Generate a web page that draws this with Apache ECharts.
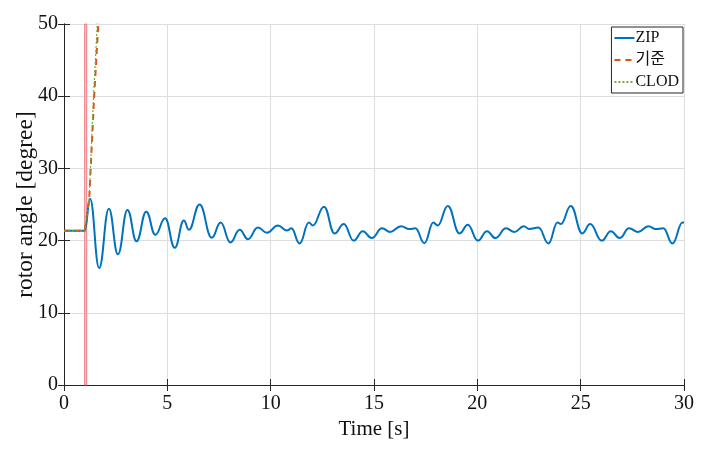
<!DOCTYPE html>
<html>
<head>
<meta charset="utf-8">
<script src="https://cdn.jsdelivr.net/npm/echarts@6/dist/echarts.min.js"></script>
<style>
  html, body { margin: 0; padding: 0; background: #fff; }
  #chart { width: 711px; height: 457px; }
</style>
</head>
<body>
<div id="chart"></div>
<script>
// 시간축 (s) / 회전자 각도 (degree)
const zipTime = [0, 1.0, 1.26, 1.70, 2.17, 2.61, 3.07, 3.51, 3.98, 4.42, 4.89, 5.36, 5.80, 6.04, 6.56,
  7.15, 7.58, 8.05, 8.50, 8.90, 9.38, 9.82, 10.35, 10.79, 11.0, 11.40, 11.85, 12.04, 12.58, 13.09,
  13.54, 14.01, 14.46, 14.89, 15.39, 15.78, 16.31, 16.71, 17.0, 17.44, 17.87, 18.08, 18.57, 19.14,
  19.54, 20.02, 20.47, 20.87, 21.39, 21.79, 22.25, 22.51, 22.96, 23.44, 23.88, 24.04, 24.52, 25.08,
  25.46, 26.02, 26.46, 26.89, 27.34, 27.78, 28.28, 28.63, 29.0, 29.44, 29.93, 30];
const zipAngle = [21.35, 21.35, 25.8, 16.2, 24.4, 18.1, 24.25, 19.9, 24.0, 20.8, 23.1, 19.0, 22.8, 21.5, 25.0,
  20.4, 22.5, 19.75, 21.5, 20.2, 21.8, 21.1, 22.1, 21.4, 21.7, 19.6, 22.5, 22.1, 24.7, 21.0,
  22.3, 20.0, 21.3, 20.35, 21.7, 21.2, 22.0, 21.6, 21.7, 19.65, 22.5, 22.1, 24.8, 21.0,
  22.2, 20.0, 21.3, 20.35, 21.7, 21.2, 22.0, 21.6, 21.8, 19.6, 22.5, 22.3, 24.8, 21.0,
  22.3, 20.0, 21.3, 20.35, 21.7, 21.2, 22.0, 21.6, 21.7, 19.6, 22.5, 22.5];

const baseTime = [0, 1.0, 1.22, 1.45, 1.66, 1.75];
const baseAngle = [21.35, 21.35, 25.7, 39.5, 50, 54];

const clodTime = [0, 1.0, 1.22, 1.42, 1.61, 1.7];
const clodAngle = [21.35, 21.35, 25.9, 39.5, 50, 54];

// 고장 구간
const faultStart = 1.0;
const faultEnd = 1.1;

const xTicks = [0, 5, 10, 15, 20, 25, 30];
const yTicks = [0, 10, 20, 30, 40, 50];

const pairs = (t, v) => t.map((x, i) => [x, v[i]]);

const serif = 'Liberation Serif, Times New Roman, serif';
const axisColor = '#262626';

const chart = echarts.init(document.getElementById('chart'));

const option = {
  animation: false,
  grid: { left: 64, right: 27, top: 24, bottom: 72, containLabel: false, outerBoundsMode: 'none' },
  legend: {
    orient: 'vertical',
    right: 28,
    top: 27,
    itemWidth: 20,
    itemHeight: 14,
    itemGap: 6,
    padding: [3, 4, 3, 2],
    backgroundColor: '#fff',
    borderColor: axisColor,
    borderWidth: 1,
    borderRadius: 0,
    itemStyle: { opacity: 0 },
    textStyle: { fontFamily: serif + ', Noto Sans CJK KR', fontSize: 16, color: '#111', padding: [0, 0, 0, -4] },
    data: ['ZIP', '기준', 'CLOD']
  },
  xAxis: [
    {
      type: 'value', min: 0, max: 30, interval: 5,
      name: 'Time [s]', nameLocation: 'middle', nameGap: 33,
      nameTextStyle: { fontFamily: serif, fontSize: 21, color: '#111' },
      axisLine: { show: true, lineStyle: { color: axisColor, width: 1 } },
      axisTick: { inside: true, length: 6, lineStyle: { color: axisColor } },
      axisLabel: { fontFamily: serif, fontSize: 20, color: '#111', margin: 9,
        formatter: v => xTicks.includes(v) ? String(v) : '' },
      splitLine: { show: true, lineStyle: { color: '#dedede', width: 1 } }
    },
    {
      type: 'value', min: 0, max: 30, interval: 5, position: 'top',
      axisLine: { show: true, lineStyle: { color: axisColor, width: 1 } },
      axisTick: { inside: true, length: 6, lineStyle: { color: axisColor } },
      axisLabel: { show: false },
      splitLine: { show: false }
    }
  ],
  yAxis: [
    {
      type: 'value', min: 0, max: 50, interval: 10,
      name: 'rotor angle [degree]', nameLocation: 'middle', nameGap: 26,
      nameMoveOverlap: false,
      nameTextStyle: { fontFamily: serif, fontSize: 23.5, color: '#111' },
      axisLine: { show: true, lineStyle: { color: axisColor, width: 1 } },
      axisTick: { inside: true, length: 6, lineStyle: { color: axisColor } },
      axisLabel: { fontFamily: serif, fontSize: 20, color: '#111', margin: 6,
        formatter: v => yTicks.includes(v) ? String(v) : '' },
      splitLine: { show: true, lineStyle: { color: '#dedede', width: 1 } }
    },
    {
      type: 'value', min: 0, max: 50, interval: 10, position: 'right',
      axisLine: { show: true, lineStyle: { color: axisColor, width: 1 } },
      axisTick: { inside: true, length: 6, lineStyle: { color: axisColor } },
      axisLabel: { show: false },
      splitLine: { show: false }
    }
  ],
  series: [
    {
      name: 'ZIP',
      type: 'line',
      data: pairs(zipTime, zipAngle),
      smooth: 0.45,
      smoothMonotone: 'x',
      showSymbol: false,
      symbol: 'none',
      color: '#0072BD',
      lineStyle: { color: '#0072BD', width: 2 },
      z: 3,
      markArea: {
        silent: true,
        itemStyle: { color: 'rgba(248,178,184,0.75)', borderColor: 'rgba(238,110,120,0.85)', borderWidth: 1 },
        data: [[{ xAxis: faultStart }, { xAxis: faultEnd }]]
      }
    },
    {
      name: '기준',
      type: 'line',
      data: pairs(baseTime, baseAngle),
      showSymbol: false,
      symbol: 'none',
      color: '#D95319',
      lineStyle: { color: '#D95319', width: 2, type: [6, 5] },
      z: 4
    },
    {
      name: 'CLOD',
      type: 'line',
      data: pairs(clodTime, clodAngle),
      showSymbol: false,
      symbol: 'none',
      color: '#77AC30',
      lineStyle: { color: '#77AC30', width: 1.2, type: [2, 2] },
      z: 5
    }
  ]
};

chart.setOption(option);
</script>
</body>
</html>
